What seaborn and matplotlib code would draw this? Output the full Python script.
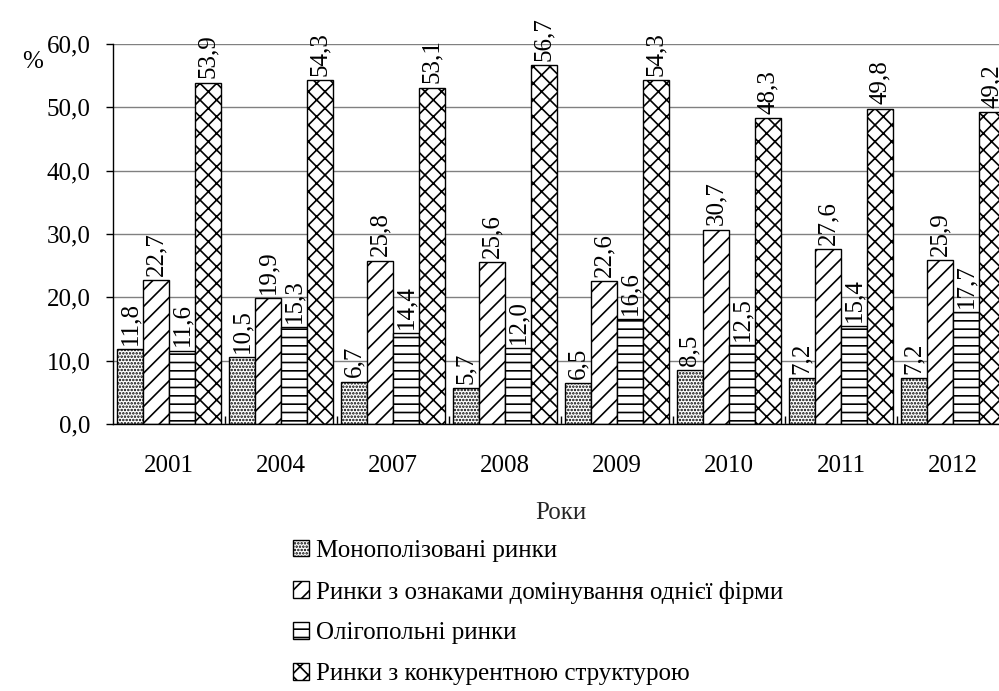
import seaborn as sns
import matplotlib.pyplot as plt
import pandas as pd
from matplotlib.patches import Patch

# Data
years = ['2001', '2004', '2007', '2008', '2009', '2010', '2011', '2012']
monopoly = [11.8, 10.5, 6.7, 5.7, 6.5, 8.5, 7.2, 7.2]
dominant = [22.7, 19.9, 25.8, 25.6, 22.6, 30.7, 27.6, 25.9]
oligopoly = [11.6, 15.3, 14.4, 12.0, 16.6, 12.5, 15.4, 17.7]
competitive = [53.9, 54.3, 53.1, 56.7, 54.3, 48.3, 49.8, 49.2]
series_names = ['Монополізовані ринки',
                'Ринки з ознаками домінування однієї фірми',
                'Олігопольні ринки',
                'Ринки з конкурентною структурою']
yticks = [0, 10, 20, 30, 40, 50, 60]

df = pd.DataFrame({
    'year': years * 4,
    'value': monopoly + dominant + oligopoly + competitive,
    'series': [s for s in series_names for _ in years],
})

sns.set_style('white')
plt.rcParams['font.family'] = ['Liberation Serif', 'DejaVu Serif']
plt.rcParams['text.color'] = 'black'
plt.rcParams['xtick.color'] = 'black'
plt.rcParams['ytick.color'] = 'black'
plt.rcParams['hatch.linewidth'] = 1.2
fs = 18

fig = plt.figure(figsize=(9.99, 6.91), dpi=100)
ax = fig.add_axes([0.113, 0.3864, 0.897, 0.55])

sns.barplot(data=df, x='year', y='value', hue='series', hue_order=series_names,
            palette=['white'] * 4, edgecolor='black', linewidth=1.0,
            width=0.93, gap=0, legend=False, ax=ax, zorder=2)

hatches = ['.....', '//', '--', 'xx']
for cont, h in zip(ax.containers, hatches):
    for bar in cont:
        bar.set_hatch(h)
    ax.bar_label(cont, labels=[f'{v.get_height():.1f}'.replace('.', ',') for v in cont],
                 rotation=90, padding=3, fontsize=fs)

ax.set_ylim(0, 60)
ax.set_xlim(-0.5, 7.5)
ax.set_yticks(yticks)
ax.set_yticklabels([f'{t:.1f}'.replace('.', ',') for t in yticks], fontsize=fs)
ax.tick_params(axis='y', length=5, width=1, direction='out', left=True, pad=11)
ax.tick_params(axis='x', labelsize=fs, length=0, pad=22)
ax.set_xticks([i + 0.5 for i in range(7)], minor=True)
ax.tick_params(axis='x', which='minor', bottom=True, direction='in', length=6, width=1)
ax.yaxis.grid(True, color='#808080', linewidth=1.0, zorder=0)
ax.set_axisbelow(True)
for s in ['top', 'right']:
    ax.spines[s].set_visible(False)
for s in ['left', 'bottom']:
    ax.spines[s].set_color('black')
    ax.spines[s].set_linewidth(1.0)
ax.set_xlabel('Роки', fontsize=fs, labelpad=18)
ax.set_ylabel('')
fig.text(0.022, 0.902, '%', fontsize=fs)

handles = [Patch(facecolor='white', edgecolor='black', hatch=h) for h in hatches]
fig.legend(handles, series_names, loc='upper left', bbox_to_anchor=(0.293, 0.219),
           frameon=False, fontsize=fs, handlelength=0.65, handleheight=0.65,
           handletextpad=0.3, labelspacing=0.75, borderaxespad=0, borderpad=0)

fig.savefig('out.png', dpi=100)
